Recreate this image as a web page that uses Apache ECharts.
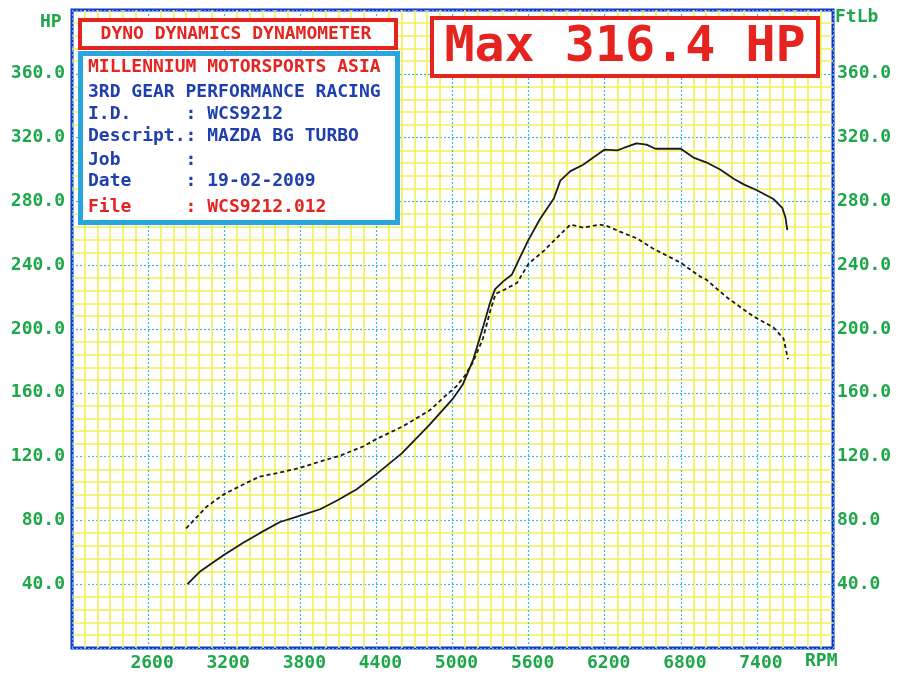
<!DOCTYPE html>
<html>
<head>
<meta charset="utf-8">
<script src="https://cdn.jsdelivr.net/npm/echarts@6/dist/echarts.min.js"></script>
<style>
html,body{margin:0;padding:0;background:#fff;}
#chart{width:900px;height:674px;}
</style>
</head>
<body>
<div id="chart"></div>
<script>
// ---- Data read from the dyno sheet ----
const hpRpm = [2910,3010,3100,3200,3350,3480,3640,3800,3956,4090,4245,4400,4600,4820,5000,5080,5164,5244,5297,5336,5402,5467,5533,5600,5690,5800,5850,5930,6030,6110,6200,6300,6350,6450,6530,6600,6800,6900,7000,7110,7220,7300,7400,7530,7600,7625,7640];
const hpValues = [40,48,53,58.5,66,72,79,83,87,92.5,99.5,109,122,140,156,165,181,202,216.7,225,230,234,245,256,269,282,293,299,303,307.5,312.5,312,313.5,316.4,315.6,313,313,307.5,304.5,300,294,290.5,287,281.5,276,270,262];

const tqRpm = [2900,3060,3200,3350,3480,3640,3800,3960,4110,4300,4400,4610,4820,4950,5030,5100,5160,5240,5300,5340,5430,5510,5600,5720,5820,5930,6030,6160,6220,6320,6450,6580,6690,6800,6950,7000,7160,7370,7530,7610,7645];
const tqValues = [75,88.5,96.5,102.5,107.5,110,113,117,120.5,126.5,131,139,149,158.5,164,171,179,194,212,222,225.5,229,241,249,257,265.5,263.5,265.5,264.5,261,257,250.5,246,241.5,233,231,220,208,201,194,181];

const rpmMin = 2000, rpmMax = 8000, rpmStep = 600;
const yMin = 0, yMax = 400, yStep = 40;

const headerTitle = 'DYNO DYNAMICS DYNAMOMETER';
const maxText = 'Max 316.4 HP';
const infoLines = [
  {t:'MILLENNIUM MOTORSPORTS ASIA', c:'red'},
  {t:'3RD GEAR PERFORMANCE RACING', c:'blue'},
  {t:'I.D.     : WCS9212', c:'blue'},
  {t:'Descript.: MAZDA BG TURBO', c:'blue'},
  {t:'Job      :', c:'blue'},
  {t:'Date     : 19-02-2009', c:'blue'},
  {t:'File     : WCS9212.012', c:'red'}
];
const leftUnit = 'HP', rightUnit = 'FtLb', xUnit = 'RPM';

// ---- Styling ----
const FONT = '"DejaVu Sans Mono", "Liberation Mono", monospace';
const RED = '#e52420', BLUE = '#1f3fae', GREEN = '#1ea64a', CYAN = '#2aa6de';
const BORDER = '#1233c4', YELLOW = '#f3ef5a', MAJOR = '#3fb6e0';

const chart = echarts.init(document.getElementById('chart'), null, {renderer:'canvas'});

const zip = (xs, ys) => xs.map((x,i)=>[x, ys[i]]);
const yLabel = v => (v === yMin || v === yMax) ? '' : v.toFixed(1);

const infoTop = [67, 92, 114, 136, 160, 181, 207];

const graphic = [
  {type:'rect', shape:{x:80, y:20, width:316, height:28}, style:{fill:'#fff', stroke:RED, lineWidth:4}, z:100},
  {type:'text', x:236, y:34, style:{text:headerTitle, fill:RED, font:'bold 18px '+FONT, align:'center', verticalAlign:'middle'}, z:101},
  {type:'rect', shape:{x:80.5, y:53.5, width:317, height:169}, style:{fill:'#fff', stroke:CYAN, lineWidth:5}, z:100},
  {type:'rect', shape:{x:432, y:18, width:386, height:58}, style:{fill:'#fff', stroke:RED, lineWidth:4}, z:100},
  {type:'text', x:625, y:48, style:{text:maxText, fill:RED, font:'bold 50px '+FONT, align:'center', verticalAlign:'middle'}, z:101},
  {type:'text', x:40, y:22, style:{text:leftUnit, fill:GREEN, font:'bold 18px '+FONT, align:'left', verticalAlign:'middle'}, z:101},
  {type:'text', x:835, y:17, style:{text:rightUnit, fill:GREEN, font:'bold 18px '+FONT, align:'left', verticalAlign:'middle'}, z:101},
  {type:'text', x:805, y:661, style:{text:xUnit, fill:GREEN, font:'bold 18px '+FONT, align:'left', verticalAlign:'middle'}, z:101}
];
infoLines.forEach((l,i)=>{
  graphic.push({type:'text', x:88, y:infoTop[i], style:{text:l.t, fill:l.c==='red'?RED:BLUE, font:'bold 18px '+FONT, align:'left', verticalAlign:'middle'}, z:101});
});

const yAxisCommon = {
  type:'value', min:yMin, max:yMax, interval:yStep,
  axisLine:{show:false}, axisTick:{show:false},
  axisLabel:{color:GREEN, fontFamily:FONT, fontWeight:'bold', fontSize:18, formatter:yLabel}
};

chart.setOption({
  backgroundColor:'#fff',
  animation:false,
  grid:{left:72, right:67, top:10, bottom:26, show:true, borderColor:BORDER, borderWidth:3, backgroundColor:'#fff', containLabel:false},
  xAxis:{
    type:'value', min:rpmMin, max:rpmMax, interval:rpmStep,
    axisLine:{show:false}, axisTick:{show:false},
    axisLabel:{color:GREEN, fontFamily:FONT, fontWeight:'bold', fontSize:18, margin:6, padding:[0,0,0,8],
      formatter:v => (v === rpmMin || v === rpmMax) ? '' : String(v)},
    splitLine:{show:true, lineStyle:{color:MAJOR, width:1.2, type:[2,2]}},
    minorTick:{show:false, splitNumber:6},
    minorSplitLine:{show:true, lineStyle:{color:YELLOW, width:1.6}}
  },
  yAxis:[
    Object.assign({}, yAxisCommon, {
      position:'left',
      axisLabel:Object.assign({}, yAxisCommon.axisLabel, {margin:7}),
      splitLine:{show:true, lineStyle:{color:MAJOR, width:1.2, type:[2,2]}},
      minorTick:{show:false, splitNumber:5},
      minorSplitLine:{show:true, lineStyle:{color:YELLOW, width:1.6}}
    }),
    Object.assign({}, yAxisCommon, {
      position:'right',
      axisLabel:Object.assign({}, yAxisCommon.axisLabel, {margin:4}),
      splitLine:{show:false}
    })
  ],
  series:[
    {type:'line', name:'HP', data:zip(hpRpm, hpValues), yAxisIndex:0, showSymbol:false, smooth:false,
     lineStyle:{color:'#1b1b1b', width:1.8}, z:10},
    {type:'line', name:'FtLb', data:zip(tqRpm, tqValues), yAxisIndex:1, showSymbol:false, smooth:false,
     lineStyle:{color:'#1b1b1b', width:1.8, type:[4,3]}, z:10}
  ],
  graphic:graphic
});
</script>
</body>
</html>
